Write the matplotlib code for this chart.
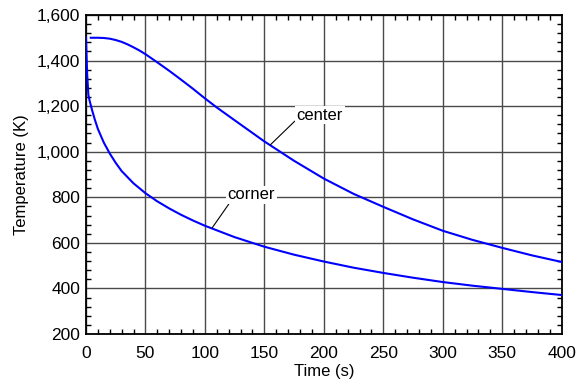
import matplotlib
matplotlib.use('Agg')
import matplotlib.pyplot as plt
from matplotlib.ticker import MultipleLocator, StrMethodFormatter

plt.rcParams['font.family'] = ['Liberation Sans', 'DejaVu Sans']

t_center = [4, 10, 15, 20, 25, 30, 35, 40, 45, 50, 60, 70, 80, 90, 100, 110, 125,
            150, 175, 200, 225, 250, 275, 300, 325, 350, 375, 400]
T_center = [1500, 1500, 1499, 1496, 1490, 1482, 1471, 1458, 1444, 1428, 1392, 1355,
            1316, 1276, 1234, 1194, 1138, 1045, 960, 882, 815, 758, 703, 653, 613,
            578, 545, 516]

t_corner = [0, 0.5, 1, 2, 3, 5, 7.5, 10, 15, 20, 25, 30, 40, 50, 60, 70, 80, 90, 100,
            125, 150, 175, 200, 225, 250, 275, 300, 325, 350, 375, 400]
T_corner = [1500, 1420, 1340, 1250, 1225, 1185, 1140, 1100, 1040, 992, 951, 915, 861,
            818, 782, 751, 723, 698, 675, 625, 583, 548, 518, 491, 468, 447, 428, 412,
            398, 384, 371]

fig = plt.figure(figsize=(5.77, 3.9), dpi=100)
ax = fig.add_axes([0.149, 0.1436, 0.8245, 0.818])

ax.plot(t_center, T_center, color='#0000ff', lw=1.5, zorder=3)
ax.plot(t_corner, T_corner, color='#0000ff', lw=1.5, zorder=3)

ax.set_xlim(0, 400)
ax.set_ylim(200, 1600)
ax.xaxis.set_major_locator(MultipleLocator(50))
ax.xaxis.set_minor_locator(MultipleLocator(10))
ax.yaxis.set_major_locator(MultipleLocator(200))
ax.yaxis.set_minor_locator(MultipleLocator(40))
ax.yaxis.set_major_formatter(StrMethodFormatter('{x:,.0f}'))
ax.grid(True, which='major', color='#4a4a4a', lw=1.0, zorder=1)
ax.tick_params(which='both', direction='in', top=True, right=True, labelsize=12.5)
ax.tick_params(axis='x', which='major', length=0, pad=9)
ax.tick_params(axis='y', which='major', length=0, pad=4)
ax.tick_params(which='minor', length=3.5, width=1)
for s in ax.spines.values():
    s.set_linewidth(1.3)

ax.set_xlabel('Time (s)', fontsize=12, labelpad=2)
ax.set_ylabel('Temperature (K)', fontsize=12, labelpad=6)

box = dict(boxstyle='square,pad=0.1', fc='white', ec='none')
ax.annotate('center', xy=(155, 1030), xytext=(177, 1161), fontsize=12, ha='left',
            va='center', bbox=box, zorder=4,
            arrowprops=dict(arrowstyle='-', color='black', lw=0.8, relpos=(0, 0.2),
                            shrinkA=0, shrinkB=0))
ax.annotate('corner', xy=(106, 665), xytext=(119, 810), fontsize=12, ha='left',
            va='center', bbox=box, zorder=4,
            arrowprops=dict(arrowstyle='-', color='black', lw=0.8, relpos=(0.05, 0),
                            shrinkA=0, shrinkB=0))

fig.savefig('out.png', dpi=100)
